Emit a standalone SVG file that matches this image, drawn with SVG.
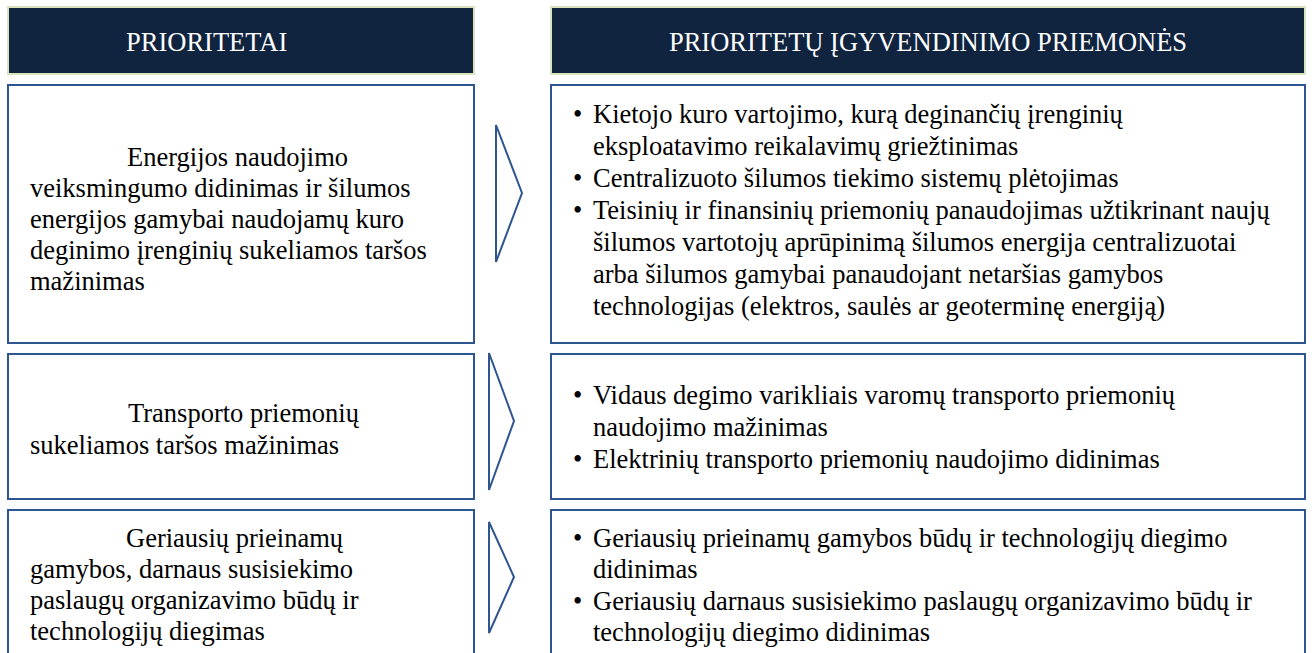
<svg xmlns="http://www.w3.org/2000/svg" width="1312" height="653" viewBox="0 0 1312 653">
<style>
.hdr{fill:#10243f;stroke:#d7e4bd;stroke-width:2}
.box{fill:#ffffff;stroke:#2f5590;stroke-width:2}
.arr{fill:#ffffff;stroke:#2f5590;stroke-width:2;stroke-linejoin:miter}
text{font-family:"Liberation Serif","Times New Roman",serif;font-size:26.5px;fill:#000000}
.ht{fill:#ffffff}
</style>
<rect width="1312" height="653" fill="#ffffff"/>
<g id="header-prioritetai">
<rect class="hdr" x="8" y="7" width="466" height="67"/>
<text class="ht" x="126" y="51">PRIORITETAI</text>
</g>
<g id="header-priemones">
<rect class="hdr" x="551" y="7" width="754" height="67"/>
<text class="ht" x="928" y="51" text-anchor="middle">PRIORITETŲ ĮGYVENDINIMO PRIEMONĖS</text>
</g>
<g id="prioritetas-1">
<rect class="box" x="8" y="85" width="466" height="258"/>
<text x="127" y="166">Energijos naudojimo</text>
<text x="30" y="197">veiksmingumo didinimas ir šilumos</text>
<text x="30" y="228">energijos gamybai naudojamų kuro</text>
<text x="30" y="259">deginimo įrenginių sukeliamos taršos</text>
<text x="30" y="290">mažinimas</text>
</g>
<g id="prioritetas-2">
<rect class="box" x="8" y="354" width="466" height="145"/>
<text x="128" y="422">Transporto priemonių</text>
<text x="30" y="454">sukeliamos taršos mažinimas</text>
</g>
<g id="prioritetas-3">
<rect class="box" x="8" y="510" width="466" height="160"/>
<text x="126" y="547">Geriausių prieinamų</text>
<text x="30" y="578">gamybos, darnaus susisiekimo</text>
<text x="30" y="609">paslaugų organizavimo būdų ir</text>
<text x="30" y="640">technologijų diegimas</text>
</g>
<g id="priemones-1">
<rect class="box" x="551" y="85" width="754" height="258"/>
<text x="573" y="123">•</text>
<text x="593" y="123">Kietojo kuro vartojimo, kurą deginančių įrenginių</text>
<text x="593" y="155">eksploatavimo reikalavimų griežtinimas</text>
<text x="573" y="187">•</text>
<text x="593" y="187">Centralizuoto šilumos tiekimo sistemų plėtojimas</text>
<text x="573" y="219">•</text>
<text x="593" y="219">Teisinių ir finansinių priemonių panaudojimas užtikrinant naujų</text>
<text x="593" y="251">šilumos vartotojų aprūpinimą šilumos energija centralizuotai</text>
<text x="593" y="283">arba šilumos gamybai panaudojant netaršias gamybos</text>
<text x="593" y="315">technologijas (elektros, saulės ar geoterminę energiją)</text>
</g>
<g id="priemones-2">
<rect class="box" x="551" y="354" width="754" height="145"/>
<text x="573" y="404">•</text>
<text x="593" y="404">Vidaus degimo varikliais varomų transporto priemonių</text>
<text x="593" y="436">naudojimo mažinimas</text>
<text x="573" y="468">•</text>
<text x="593" y="468">Elektrinių transporto priemonių naudojimo didinimas</text>
</g>
<g id="priemones-3">
<rect class="box" x="551" y="510" width="754" height="160"/>
<text x="573" y="547">•</text>
<text x="593" y="547">Geriausių prieinamų gamybos būdų ir technologijų diegimo</text>
<text x="593" y="578">didinimas</text>
<text x="573" y="610">•</text>
<text x="593" y="610">Geriausių darnaus susisiekimo paslaugų organizavimo būdų ir</text>
<text x="593" y="641">technologijų diegimo didinimas</text>
</g>
<g id="connectors">
<polygon class="arr" points="496,125 522,193 496,262"/>
<polygon class="arr" points="489,353 514,421 489,490"/>
<polygon class="arr" points="489,522 514,577 489,633"/>
</g>
</svg>
